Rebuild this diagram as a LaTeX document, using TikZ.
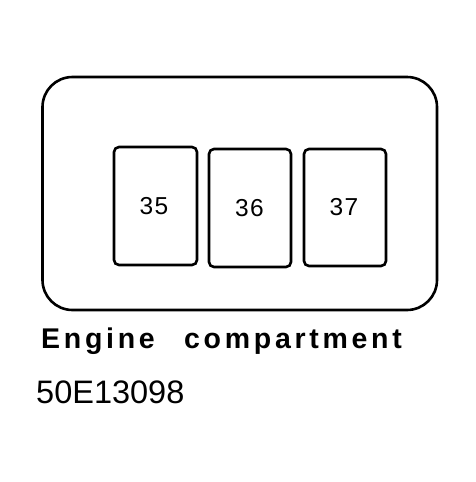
\documentclass[tikz,border=0pt]{standalone}
\usepackage{fontspec}
\setmainfont{Liberation Sans}
\newfontfamily\labfont[LetterSpace=13]{Liberation Sans}
\newfontfamily\numfont[LetterSpace=6]{Liberation Sans}
\begin{document}
\begin{tikzpicture}[x=1pt,y=-1pt,
  fusebox/.style={draw,line width=2.6pt,rounded corners=5pt},
  num/.style={font=\numfont\fontsize{24.5}{24.5}\selectfont,inner sep=0pt},
  panel/.style={draw,line width=2.6pt,rounded corners=30pt},
  lab/.style={anchor=base west,inner sep=0pt,font=\labfont\bfseries\fontsize{28.5}{28.5}\selectfont}]
\useasboundingbox (0,0) rectangle (476,482);
\draw[panel] (42.5,77) rectangle (437,310);
\draw[fusebox] (114,147) rectangle (197,265);
\draw[fusebox] (209,149) rectangle (291,267);
\draw[fusebox] (304,149) rectangle (386,266);
\node[num] (f35) at (154,206.5) {35};
\node[num] (f36) at (249.5,208.5) {36};
\node[num] (f37) at (344,207.5) {37};
\node[lab] (eng) at (41,348) {Engine};
\node[lab] (comp) at (184,348) {compartment};
\node[anchor=base west,inner sep=0pt,font=\fontsize{32.5}{32.5}\selectfont] (code) at (36,403) {50E13098};
\end{tikzpicture}
\end{document}
